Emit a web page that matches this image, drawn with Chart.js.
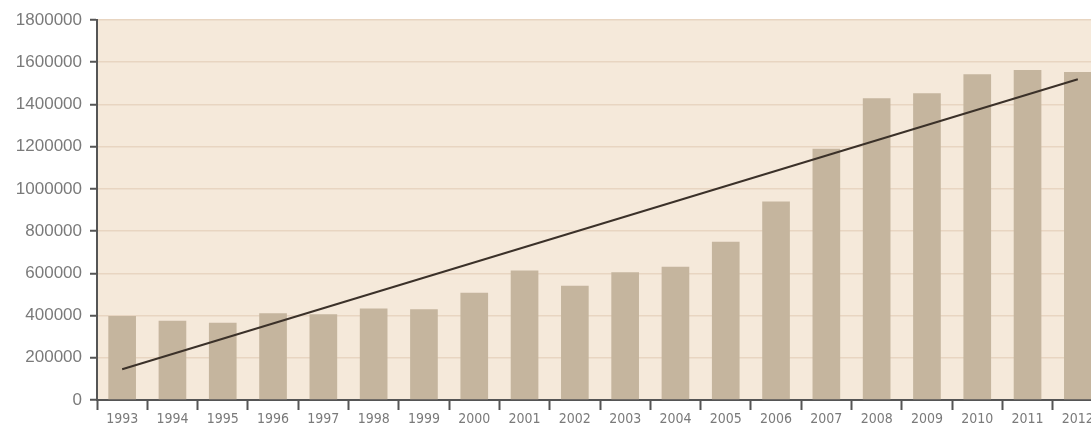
<!DOCTYPE html>
<html>
<head>
<meta charset="utf-8">
<script src="https://cdn.jsdelivr.net/npm/chart.js@4/dist/chart.umd.min.js"></script>
<style>
  html, body { margin: 0; padding: 0; background: #fff; overflow: hidden; }
  #wrap { width: 1110px; height: 424px; }
</style>
</head>
<body>
<div id="wrap"><canvas id="grafica" width="1110" height="424"></canvas></div>
<script>
const anos = ["1993", "1994", "1995", "1996", "1997", "1998", "1999", "2000", "2001", "2002",
  "2003", "2004", "2005", "2006", "2007", "2008", "2009", "2010", "2011", "2012"];

const valores = [398000, 375000, 366000, 411000, 406000, 433000, 430000, 508000, 613000, 541000,
  605000, 631000, 750000, 940000, 1190000, 1429000, 1453000, 1543000, 1563000, 1554000];

// tendencia: solo los extremos, la linea une los dos puntos
const tendencia = [146000, null, null, null, null, null, null, null, null, null,
  null, null, null, null, null, null, null, null, null, 1519000];

const marcasY = [0, 200000, 400000, 600000, 800000, 1000000, 1200000, 1400000, 1600000, 1800000];

const fondoPlot = {
  id: "fondoPlot",
  beforeDraw(c) {
    const a = c.chartArea;
    const ctx = c.ctx;
    ctx.save();
    ctx.fillStyle = "#f5e9da";
    ctx.fillRect(a.left, a.top, a.right - a.left, a.bottom - a.top);
    ctx.restore();
  }
};

new Chart(document.getElementById("grafica"), {
  data: {
    labels: anos,
    datasets: [
      {
        type: "line",
        data: tendencia,
        spanGaps: true,
        borderColor: "#3b3129",
        borderWidth: 2,
        pointRadius: 0,
        order: 0
      },
      {
        type: "bar",
        data: valores,
        backgroundColor: "#c5b59e",
        categoryPercentage: 1,
        barPercentage: 0.55,
        order: 1
      }
    ]
  },
  options: {
    responsive: false,
    animation: false,
    layout: { padding: { top: 20, right: 7, left: 0, bottom: 0 } },
    plugins: { legend: { display: false }, tooltip: { enabled: false } },
    scales: {
      x: {
        offset: true,
        grid: {
          offset: true,
          drawOnChartArea: false,
          drawTicks: true,
          tickLength: 10,
          tickColor: "#555",
          tickWidth: 2
        },
        border: { color: "#555", width: 2 },
        ticks: {
          color: "#7a7a7a",
          padding: 1,
          maxRotation: 0,
          autoSkip: false,
          font: { family: "'Liberation Sans Narrow', 'DejaVu Sans Condensed', sans-serif", size: 14 }
        },
        afterFit(s) { s.height = 24; }
      },
      y: {
        min: 0,
        max: 1800000,
        afterBuildTicks(s) { s.ticks = marcasY.map(v => ({ value: v })); },
        grid: {
          color: "#e8d5c1",
          lineWidth: 1.5,
          tickLength: 7,
          tickColor: "#555",
          tickWidth: 2
        },
        border: { color: "#555", width: 2 },
        ticks: {
          color: "#7a7a7a",
          padding: 8,
          font: { family: "'Liberation Sans', Arial, sans-serif", size: 17 },
          callback: v => String(v)
        },
        afterFit(s) { s.width = 97; }
      }
    }
  },
  plugins: [fondoPlot]
});
</script>
</body>
</html>
